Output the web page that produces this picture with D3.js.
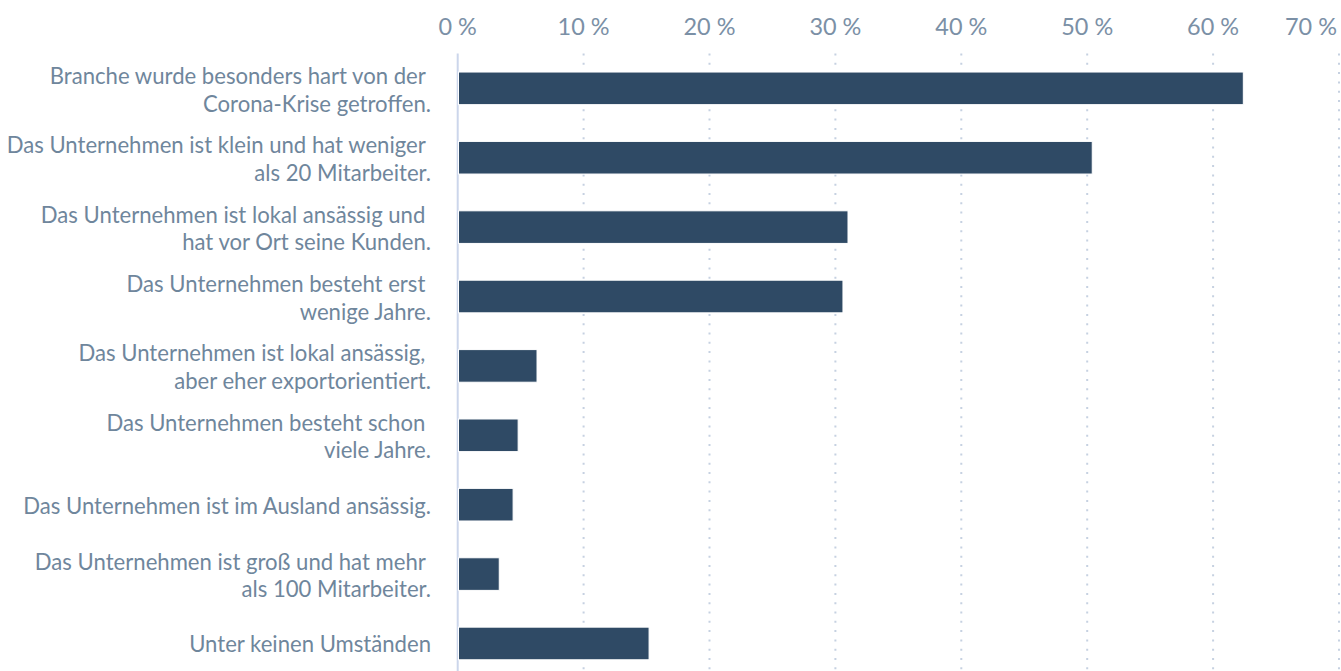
<!DOCTYPE html>
<html>
<head>
<meta charset="utf-8">
<script src="https://cdn.jsdelivr.net/npm/d3@7"></script>
<style>
  html, body { margin: 0; padding: 0; background: #ffffff; }
  #chartVis { width: 1341px; height: 671px; overflow: hidden; }
  text { font-family: "Lato", "Open Sans", sans-serif; white-space: pre; }
</style>
</head>
<body>
<div id="chartVis"></div>
<script>
// data
const categories = [
  ["Branche wurde besonders hart von der ", "Corona-Krise getroffen."],
  ["Das Unternehmen ist klein und hat weniger ", "als 20 Mitarbeiter."],
  ["Das Unternehmen ist lokal ansässig und ", "hat vor Ort seine Kunden."],
  ["Das Unternehmen besteht erst ", "wenige Jahre."],
  ["Das Unternehmen ist lokal ansässig, ", "aber eher exportorientiert."],
  ["Das Unternehmen besteht schon ", "viele Jahre."],
  ["Das Unternehmen ist im Ausland ansässig."],
  ["Das Unternehmen ist groß und hat mehr ", "als 100 Mitarbeiter."],
  ["Unter keinen Umständen"]
];
const values = [62.4, 50.4, 31.0, 30.6, 6.3, 4.8, 4.4, 3.3, 15.2];
const tickValues = [0, 10, 20, 30, 40, 50, 60, 70];

var width = 1341;
var height = 671;
var plot = { left: 457.7, right: 1339, top: 53.5, bottom: 678.3 };
var labelRight = 431;

var svg = d3.select("#chartVis")
  .append("svg")
  .attr("width", width)
  .attr("height", height);

let xScale = d3.scaleLinear().domain([0, 70]).range([plot.left, plot.right]);
let yScale = d3.scaleBand()
  .domain(d3.range(categories.length))
  .range([plot.top, plot.bottom])
  .paddingInner(0.53)
  .paddingOuter(0.267);

// pick font sizes so the text widths match the reference
function fitSize(str, target, weight) {
  let t = svg.append("text").attr("font-size", 20).text(str);
  let w = t.node().getComputedTextLength();
  t.remove();
  return 20 * target / w;
}
const labelSize = fitSize("Das Unternehmen ist im Ausland ansässig.", 408);
const tickSize = fitSize("10 %", 52);

// dotted grid lines
svg.append("g").selectAll("line")
  .data(tickValues.filter(d => d > 0)).enter()
  .append("line")
  .attr("x1", d => xScale(d)).attr("x2", d => xScale(d))
  .attr("y1", plot.top).attr("y2", plot.bottom)
  .attr("stroke", "#c6d1e1")
  .attr("stroke-width", 2)
  .attr("stroke-dasharray", "2,7.3");

// axis line at zero
svg.append("line")
  .attr("x1", xScale(0)).attr("x2", xScale(0))
  .attr("y1", plot.top).attr("y2", plot.bottom)
  .attr("stroke", "#ccd6eb")
  .attr("stroke-width", 2);

// tick labels on top
svg.append("g").selectAll("text")
  .data(tickValues).enter()
  .append("text")
  .attr("x", d => d === 70 ? width - 4 : xScale(d))
  .attr("y", 35)
  .attr("text-anchor", d => d === 70 ? "end" : "middle")
  .attr("font-size", tickSize)
  .attr("fill", "#7b90a6")
  .text(d => d + " %");

// bars
svg.append("g").selectAll("rect")
  .data(values).enter()
  .append("rect")
  .attr("x", xScale(0) + 0.8)
  .attr("y", (d, i) => yScale(i))
  .attr("width", d => xScale(d) - xScale(0) - 0.8)
  .attr("height", yScale.bandwidth())
  .attr("fill", "#2f4a65")
  .attr("stroke", "#ffffff")
  .attr("stroke-width", 1);

// category labels
let labels = svg.append("g").selectAll("text")
  .data(categories).enter()
  .append("text")
  .attr("text-anchor", "end")
  .attr("font-size", labelSize)
  .attr("fill", "#6f869c");

labels.each(function (lines, i) {
  let c = yScale(i) + yScale.bandwidth() / 2;
  let first = lines.length > 1 ? c - 4.5 : c + 9;
  d3.select(this).selectAll("tspan")
    .data(lines).enter()
    .append("tspan")
    .attr("x", labelRight)
    .attr("y", (d, k) => first + k * 27.7)
    .text(d => d);
});
</script>
</body>
</html>
